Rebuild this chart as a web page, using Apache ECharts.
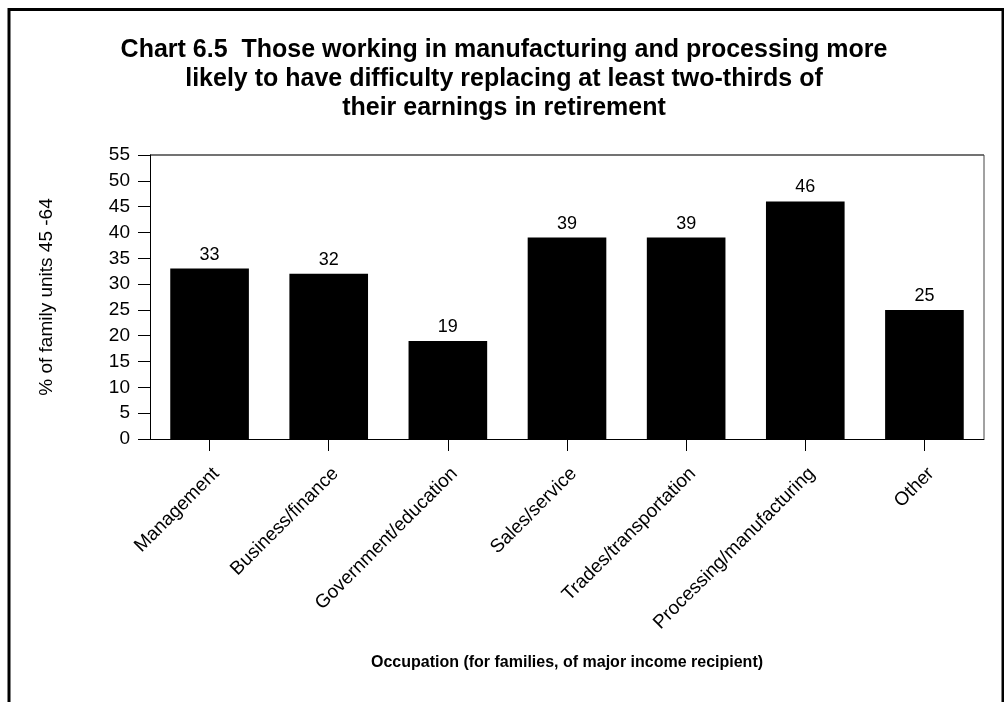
<!DOCTYPE html>
<html>
<head>
<meta charset="utf-8">
<script src="https://cdn.jsdelivr.net/npm/echarts@6/dist/echarts.min.js"></script>
<style>
  html, body { margin: 0; padding: 0; background: #ffffff; }
  #chart { width: 1004px; height: 702px; }
</style>
</head>
<body>
<div id="chart"></div>
<script>
// Occupation categories and share of family units aged 45-64 (%)
const categories = [
  'Management',
  'Business/finance',
  'Government/education',
  'Sales/service',
  'Trades/transportation',
  'Processing/manufacturing',
  'Other'
];
const values = [33, 32, 19, 39, 39, 46, 25];

const titleText = 'Chart 6.5  Those working in manufacturing and processing more\n' +
  'likely to have difficulty replacing at least two-thirds of\n' +
  'their earnings in retirement';
const yAxisTitle = '% of family units 45 -64';
const xAxisTitle = 'Occupation (for families, of major income recipient)';

const FONT = 'Liberation Sans, Arial, sans-serif';

const chart = echarts.init(document.getElementById('chart'), null, { renderer: 'canvas' });

chart.setOption({
  backgroundColor: '#ffffff',
  animation: false,
  textStyle: { fontFamily: FONT, color: '#000' },
  title: {
    text: titleText,
    left: 499,
    top: 31,
    textAlign: 'center',
    textStyle: {
      fontFamily: FONT,
      fontSize: 25,
      fontWeight: 'bold',
      color: '#000',
      lineHeight: 29
    }
  },
  grid: { left: 150, top: 155, right: 20, bottom: 263 },
  xAxis: {
    type: 'category',
    data: categories,
    name: xAxisTitle,
    nameLocation: 'middle',
    nameGap: 216,
    nameTextStyle: { fontFamily: FONT, fontSize: 16, fontWeight: 'bold', color: '#000' },
    axisLine: { show: true, lineStyle: { color: '#000', width: 1 } },
    axisTick: { show: true, alignWithLabel: true, length: 12, lineStyle: { color: '#000' } },
    axisLabel: {
      rotate: 45,
      margin: 25,
      verticalAlign: 'top',
      fontFamily: FONT,
      fontSize: 19,
      color: '#000',
      interval: 0
    },
    splitLine: { show: false }
  },
  yAxis: {
    type: 'value',
    min: 0,
    max: 55,
    interval: 5,
    name: yAxisTitle,
    nameLocation: 'middle',
    nameGap: 94,
    nameTextStyle: { fontFamily: FONT, fontSize: 19, color: '#000' },
    axisLine: { show: true, lineStyle: { color: '#000', width: 1 } },
    axisTick: { show: true, length: 12, lineStyle: { color: '#000' } },
    axisLabel: { margin: 20, fontFamily: FONT, fontSize: 19, color: '#000' },
    splitLine: { show: false }
  },
  series: [{
    type: 'bar',
    data: values,
    barCategoryGap: '34%',
    itemStyle: { color: '#000' },
    label: {
      show: true,
      position: 'top',
      distance: 5,
      fontFamily: FONT,
      fontSize: 18,
      color: '#000'
    }
  }],
  graphic: [
    // plot area box (top and right edges)
    { type: 'line', shape: { x1: 150, y1: 155, x2: 984, y2: 155 }, style: { stroke: '#444', lineWidth: 1.5 } },
    { type: 'line', shape: { x1: 984, y1: 155, x2: 984, y2: 439 }, style: { stroke: '#444', lineWidth: 1 } },
    // outer frame, open at the bottom
    { type: 'line', shape: { x1: 9, y1: 9.5, x2: 1003, y2: 9.5 }, style: { stroke: '#000', lineWidth: 3 } },
    { type: 'line', shape: { x1: 9, y1: 8, x2: 9, y2: 702 }, style: { stroke: '#000', lineWidth: 3 } },
    { type: 'line', shape: { x1: 1003, y1: 8, x2: 1003, y2: 702 }, style: { stroke: '#000', lineWidth: 3 } }
  ]
});
</script>
</body>
</html>
